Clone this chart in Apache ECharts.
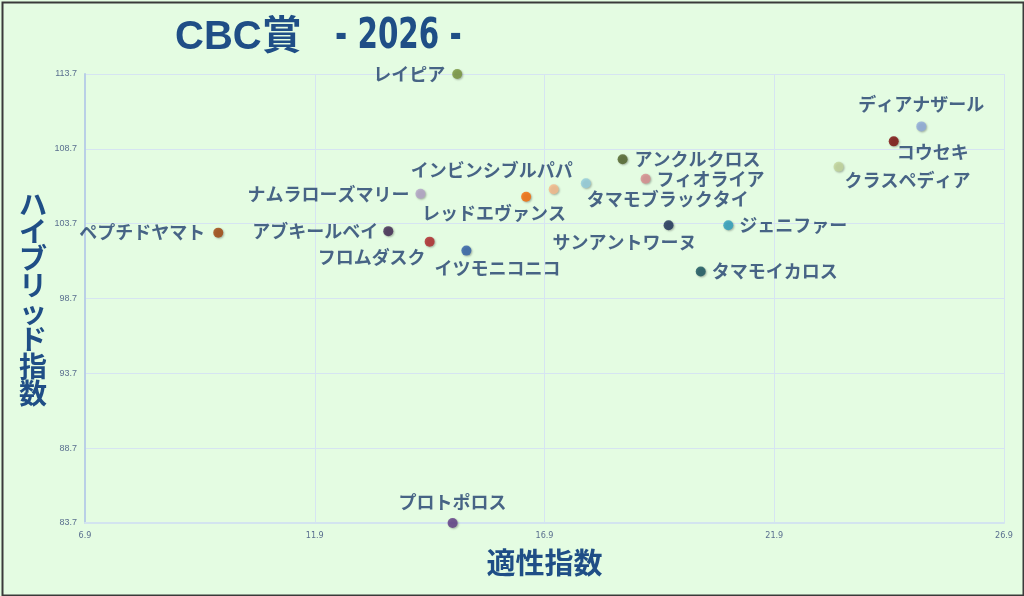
<!DOCTYPE html>
<html>
<head>
<meta charset="utf-8">
<script src="https://cdn.jsdelivr.net/npm/echarts@6/dist/echarts.min.js"></script>
<style>
html,body{margin:0;padding:0;background:#e4fce2;}
#c{width:1024px;height:596px;}
</style>
</head>
<body>
<div id="c"></div>
<script>
// ---- data ----
var horses = ['レイピア','ディアナザール','コウセキ','クラスペディア','アンクルクロス','フィオライア','タマモブラックタイ','インビンシブルパパ','レッドエヴァンス','ナムラローズマリー','ペプチドヤマト','アブキールベイ','フロムダスク','イツモニコニコ','サンアントワーヌ','ジェニファー','タマモイカロス','プロトポロス'];
var aptitude = [15.0, 25.1, 24.5, 23.3, 18.6, 19.1, 17.8, 17.1, 16.5, 14.2, 9.8, 13.5, 14.4, 15.2, 19.6, 20.9, 20.3, 14.9];
var hybrid   = [113.7, 110.2, 109.2, 107.5, 108.0, 106.7, 106.4, 106.0, 105.5, 105.7, 103.1, 103.2, 102.5, 101.9, 103.6, 103.6, 100.5, 83.7];
var xTicks = [6.9, 11.9, 16.9, 21.9, 26.9];
var yTicks = [83.7, 88.7, 93.7, 98.7, 103.7, 108.7, 113.7];

// ---- styles ----
var colors = ['#77933c','#8eaadb','#7a0a0a','#c3d69b','#4f6228','#d98c8f','#93cddd','#f8b98a','#f76a05','#b3a2c7','#a0420a','#3f2650','#b02428','#2e5ea8','#1b2f58','#2b9dbd','#16525e','#5f3a86'];
var labelLayout = [
  {position:'left', distance:7},
  {position:'top', distance:8},
  {position:'right', distance:5, offset:[-7,11]},
  {position:'right', distance:5, offset:[-4,13]},
  {position:'right', distance:7},
  {position:'right', distance:6},
  {position:'right', distance:5, offset:[-9,16]},
  {position:'top', distance:5, offset:[-62,0]},
  {position:'bottom', distance:5, offset:[-32,-3]},
  {position:'left', distance:6},
  {position:'left', distance:8},
  {position:'left', distance:5},
  {position:'bottom', distance:5, offset:[-58,-3]},
  {position:'bottom', distance:5, offset:[31,-1]},
  {position:'bottom', distance:5, offset:[-44,-2]},
  {position:'right', distance:6},
  {position:'right', distance:6},
  {position:'top', distance:7}
];

var textColor = '#1f3d6e';
var data = horses.map(function(n,i){
  var l = labelLayout[i];
  return {
    name: n,
    value: [aptitude[i], hybrid[i]],
    itemStyle: {color: colors[i]},
    label: {position: l.position, distance: l.distance, offset: l.offset || [0,0]}
  };
});

var chart = echarts.init(document.getElementById('c'));
chart.setOption({
  backgroundColor: '#e4fce2',
  animation: false,
  grid: {left: 85, right: 20, top: 74, bottom: 73},
  graphic: [
    {type:'rect', left:0, top:0, shape:{x:1, y:1, width:1021, height:593}, style:{fill:'none', stroke:'#3a3a3a', lineWidth:2}, silent:true},
    {type:'text', x:175, y:18, style:{
      text:'CBC賞',
      fontFamily:'Liberation Sans, Noto Sans CJK JP', fontWeight:'bold', fontSize:40, fill:'#1f4e86'
    }},
    {type:'text', x:335, y:16, scaleX:0.7, style:{
      text:'- 2026 -',
      fontFamily:'DejaVu Sans, Liberation Sans', fontWeight:'bold', fontSize:42, fill:'#1f4e86'
    }}
  ],
  xAxis: {
    type: 'value',
    min: xTicks[0], max: xTicks[xTicks.length-1], interval: 5,
    name: '適性指数', nameLocation: 'middle', nameGap: 25,
    nameTextStyle: {fontFamily:'Noto Sans CJK JP', fontWeight:'bold', fontSize:29, color:'#1f4e86'},
    axisLine: {show:true, lineStyle:{color:'#d3e4ef', width:2}},
    axisTick: {show:false},
    axisLabel: {fontSize:9, color:'#5a6f8f', margin:8, fontFamily:'Liberation Sans Narrow, DejaVu Sans Condensed', formatter:function(v){return v.toFixed(1);}},
    splitLine: {show:true, lineStyle:{color:'#d6e4f2', width:1}}
  },
  yAxis: {
    type: 'value',
    min: yTicks[0], max: yTicks[yTicks.length-1], interval: 5,
    name: 'ハイブリッド指数'.split('').join('\n'), nameLocation: 'middle', nameGap: 52, nameRotate: 0,
    nameTextStyle: {fontFamily:'Noto Sans CJK JP', fontWeight:'bold', fontSize:28, lineHeight:27, color:'#1f4e86', align:'center', verticalAlign:'middle'},
    axisLine: {show:true, lineStyle:{color:'#b9cfe6', width:2}},
    axisTick: {show:false},
    axisLabel: {fontSize:9, color:'#5a6f8f', margin:8, fontFamily:'Liberation Sans, DejaVu Sans', formatter:function(v){return v.toFixed(1);}},
    splitLine: {show:true, lineStyle:{color:'#d6e4f2', width:1}}
  },
  series: [{
    type: 'scatter',
    clip: false,
    symbolSize: 10,
    itemStyle: {shadowBlur:2, shadowColor:'rgba(0,0,0,0.35)', shadowOffsetX:1, shadowOffsetY:1},
    label: {show:true, formatter:'{b}', fontFamily:'Noto Sans CJK JP', fontWeight:'bold', fontSize:18, color:textColor},
    data: data
  }]
});
</script>
</body>
</html>
